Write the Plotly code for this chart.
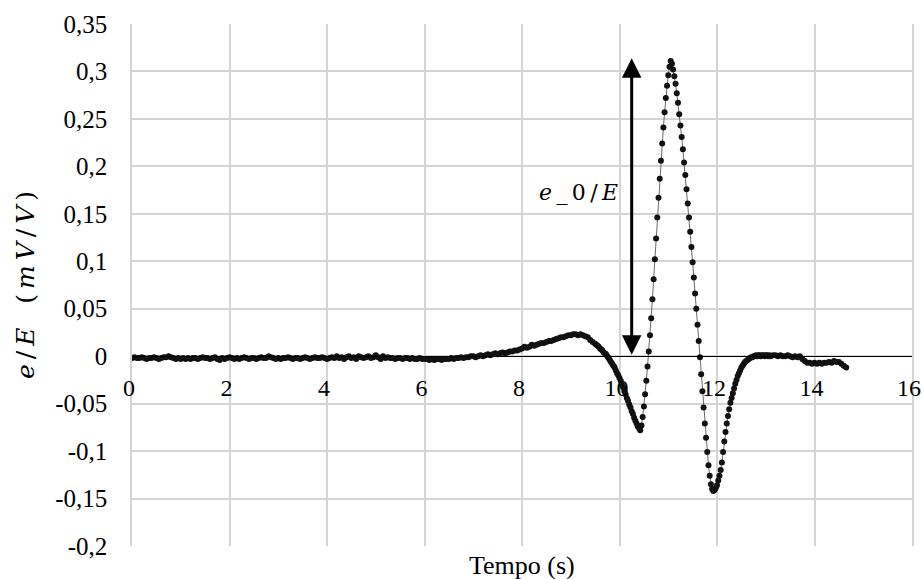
import numpy as np
import plotly.graph_objects as go

# ---------------- data ----------------
# baseline segment: t = 0 ... 9.45 s, step 0.05 s
base_t0, base_dt = 0.0, 0.05
base_vals = [
    -0.002, -0.001, -0.002, -0.002, -0.001, -0.002, -0.003, -0.002, -0.002, -0.001,
    -0.002, -0.003, -0.002, -0.001, -0.001, 0.000, -0.001, -0.002, -0.003, -0.002,
    -0.003, -0.002, -0.003, -0.002, -0.003, -0.002, -0.002, -0.003, -0.002, -0.001,
    -0.002, -0.002, -0.003, -0.002, -0.001, -0.003, -0.004, -0.002, -0.003, -0.002,
    -0.001, -0.002, -0.003, -0.002, -0.003, -0.002, -0.001, -0.002, -0.003, -0.002,
    -0.002, -0.003, -0.002, -0.001, -0.002, -0.002, 0.000, -0.001, -0.002, -0.003,
    -0.002, -0.003, -0.002, -0.002, -0.001, -0.002, -0.003, -0.002, -0.002, -0.003,
    -0.002, -0.001, -0.002, -0.003, -0.002, -0.001, -0.002, -0.002, -0.001, -0.002,
    -0.003, -0.002, -0.001, -0.002, 0.000, -0.002, -0.001, -0.003, -0.001, 0.000,
    -0.002, -0.001, -0.003, 0.000, -0.001, -0.002, -0.001, 0.000, -0.002, -0.001,
    0.001, -0.001, -0.003, 0.000, -0.002, -0.001, -0.002, -0.002, -0.003, -0.002,
    -0.002, -0.003, -0.002, -0.002, -0.003, -0.002, -0.003, -0.003, -0.002, -0.003,
    -0.003, -0.003, -0.004, -0.003, -0.004, -0.003, -0.003, -0.004, -0.003, -0.003,
    -0.003, -0.002, -0.003, -0.002, -0.002, -0.001, -0.002, -0.001, -0.001, 0.000,
    0.000, -0.001, 0.000, 0.001, 0.000, 0.001, 0.002, 0.001, 0.002, 0.003,
    0.002, 0.003, 0.004, 0.003, 0.004, 0.005, 0.005, 0.006, 0.006, 0.007,
    0.008, 0.010, 0.009, 0.010, 0.012, 0.011, 0.012, 0.013, 0.014, 0.014,
    0.015, 0.016, 0.016, 0.017, 0.018, 0.019, 0.020, 0.020, 0.021, 0.022,
    0.022, 0.023, 0.023, 0.022, 0.023, 0.022, 0.021, 0.020, 0.017, 0.015,
]

# pulse segment: t = 9.5 ... 13.075 s, step 0.025 s
pulse_t0, pulse_dt = 9.5, 0.025
pulse_vals = [
    0.013, 0.012, 0.011, 0.010, 0.008, 0.007, 0.006, 0.004,
    0.003, 0.002, 0.000, -0.002, -0.004, -0.006, -0.008, -0.010,
    -0.012, -0.015, -0.018, -0.020, -0.023, -0.026, -0.030, -0.033,
    -0.037, -0.040, -0.044, -0.047, -0.051, -0.054, -0.058, -0.061,
    -0.065, -0.068, -0.071, -0.074, -0.076, -0.078, -0.073, -0.064,
    -0.053, -0.040, -0.026, -0.011, 0.005, 0.022, 0.040, 0.060,
    0.081, 0.102, 0.124, 0.146, 0.167, 0.187, 0.206, 0.224,
    0.241, 0.257, 0.272, 0.285, 0.296, 0.305, 0.311, 0.308,
    0.302, 0.295, 0.287, 0.277, 0.267, 0.255, 0.243, 0.231,
    0.218, 0.204, 0.191, 0.176, 0.161, 0.146, 0.131, 0.115,
    0.099, 0.083, 0.066, 0.050, 0.033, 0.016, -0.001, -0.019,
    -0.037, -0.054, -0.071, -0.086, -0.101, -0.115, -0.126, -0.135,
    -0.140, -0.142, -0.141, -0.139, -0.136, -0.131, -0.126, -0.120,
    -0.112, -0.101, -0.090, -0.080, -0.071, -0.063, -0.056, -0.049,
    -0.044, -0.039, -0.034, -0.029, -0.025, -0.021, -0.018, -0.015,
    -0.012, -0.010, -0.008, -0.006, -0.005, -0.004, -0.003, -0.002,
    -0.001, -0.001, 0.000, 0.000, 0.001, 0.000, 0.001, 0.001,
    0.000, 0.001, 0.001, 0.000, 0.001, 0.001, 0.000, 0.001,
]

# tail segment: t = 13.1 ... 14.65 s, step 0.05 s
tail_t0, tail_dt = 13.1, 0.05
tail_vals = [
    0.000, 0.001, 0.001, 0.000, 0.001, 0.000, 0.000, 0.001,
    0.000, -0.001, 0.000, -0.001, 0.000, -0.003, -0.005, -0.007,
    -0.007, -0.008, -0.007, -0.008, -0.007, -0.008, -0.007, -0.007,
    -0.006, -0.007, -0.005, -0.006, -0.006, -0.008, -0.010, -0.012,
]

x_tickvals = [0, 2, 4, 6, 8, 10, 12, 14, 16]
x_ticktext = ["0", "2", "4", "6", "8", "10", "12", "14", "16"]
y_tickvals = [0.35, 0.3, 0.25, 0.2, 0.15, 0.1, 0.05, 0, -0.05, -0.1, -0.15, -0.2]
y_ticktext = ["0,35", "0,3", "0,25", "0,2", "0,15", "0,1", "0,05", "0",
              "-0,05", "-0,1", "-0,15", "-0,2"]

x_range = [0, 16]
y_range = [-0.2, 0.35]

arrow_t = 10.25        # time position of the e_0/E arrow
arrow_low = 0.0
arrow_high = 0.314
TS = "\u2009"          # thin space, widens the math-style labels
label_text = TS.join(["<i>e</i>", "_", "0", "/", "<i>E</i>"])
label_pos = (9.15, 0.172)
y_title = TS.join(["<i>e</i>", "/", "<i>E</i>"]) + "   " + TS.join(
    ["(", "<i>m</i>", "<i>V</i>", "/", "<i>V</i>", ")"])

# ---------------- build series ----------------
def seg(t0, dt, vals):
    return t0 + dt * np.arange(len(vals))

t = np.concatenate([seg(base_t0, base_dt, base_vals),
                    seg(pulse_t0, pulse_dt, pulse_vals),
                    seg(tail_t0, tail_dt, tail_vals)])
y = np.concatenate([base_vals, pulse_vals, tail_vals])

serif = "Liberation Serif"
math = "DejaVu Serif"
grid = "#d4d4d4"

fig = go.Figure()
fig.add_trace(go.Scatter(
    x=t, y=y, mode="lines+markers",
    line=dict(color="#6a6a6a", width=1),
    marker=dict(color="#111111", size=6),
    showlegend=False,
))

zero_pos = (0 - y_range[0]) / (y_range[1] - y_range[0])

fig.update_layout(
    width=923, height=579,
    margin=dict(l=132, r=11, t=24, b=33, autoexpand=False),
    paper_bgcolor="white", plot_bgcolor="white",
    font=dict(family=serif, size=24, color="black"),
    xaxis=dict(
        range=x_range, tickvals=x_tickvals, ticktext=x_ticktext,
        showgrid=True, gridcolor=grid, gridwidth=1.5,
        zeroline=False, showline=True, linecolor="black", linewidth=1.2,
        anchor="free", position=zero_pos, ticks="", ticklabelstandoff=10,
        ticklabeloverflow="allow", ticklabelshift=-3,
        tickfont=dict(family=serif, size=24), automargin=False,
    ),
    yaxis=dict(
        range=y_range, tickvals=y_tickvals, ticktext=y_ticktext,
        showgrid=True, gridcolor=grid, gridwidth=1.5,
        zeroline=False, showline=True, linecolor=grid, linewidth=1.5, mirror=True,
        ticks="", ticklabelstandoff=18, automargin=False,
        tickfont=dict(family=serif, size=25),
        title=dict(text=y_title, font=dict(family=math, size=25), standoff=13),
    ),
)

# x axis title at the bottom of the chart
fig.add_annotation(
    text="Tempo (s)", xref="paper", yref="paper", x=0.5, y=-19 / 522,
    yanchor="middle", showarrow=False, font=dict(family=serif, size=26),
)

# double-headed arrow marking e_0/E
fig.add_annotation(
    x=arrow_t, y=arrow_high, ax=arrow_t, ay=arrow_low,
    xref="x", yref="y", axref="x", ayref="y",
    showarrow=True, arrowhead=2, arrowside="end+start",
    arrowsize=1.3, arrowwidth=3, arrowcolor="black", text="",
)
fig.add_annotation(
    x=label_pos[0], y=label_pos[1], xref="x", yref="y",
    text=label_text, showarrow=False,
    font=dict(family=math, size=22),
)

# remove the default page margin so the figure fills the window exactly
fig.write_html(
    "out.html",
    config={"displayModeBar": False},
    post_script="document.body.style.margin='0';document.body.style.overflow='hidden';",
)
